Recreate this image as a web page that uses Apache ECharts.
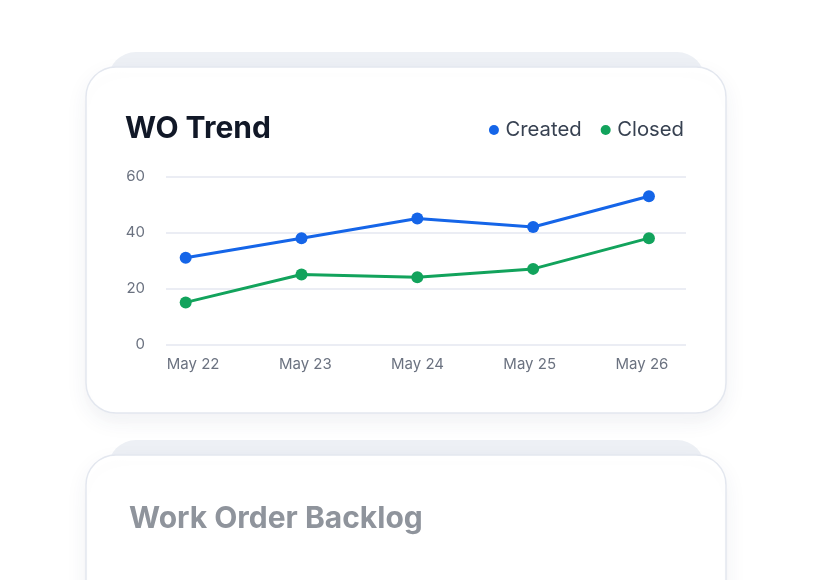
<!DOCTYPE html>
<html>
<head>
<meta charset="utf-8">
<script src="https://cdn.jsdelivr.net/npm/echarts@6/dist/echarts.min.js"></script>
<style>
  html, body { margin: 0; padding: 0; background: #fff; }
  #chart { width: 814px; height: 580px; }
</style>
</head>
<body>
<div id="chart"></div>
<script>
// data
// (not called "closed": that name is taken by window.closed)
var days = ['May 22', 'May 23', 'May 24', 'May 25', 'May 26'];
var createdCounts = [31, 38, 45, 42, 53];
var closedCounts = [15, 25, 24, 27, 38];
var yTicks = [0, 20, 40, 60];

var font = 'Inter, "Noto Sans", sans-serif';

// turn a value list into [index, value] pairs for the value x axis
function pairs(arr) {
    return arr.map(function (v, i) { return [i, v]; });
}

var myChart = echarts.init(document.getElementById('chart'));

myChart.setOption({
    animation: false,
    textStyle: { fontFamily: font },
    title: {
        text: 'WO Trend',
        left: 120,
        top: 109,
        textStyle: { fontSize: 30, fontWeight: 700, color: '#111827', fontFamily: font }
    },
    legend: {
        data: ['Created', 'Closed'],
        right: 130,
        top: 120,
        padding: 0,
        icon: 'circle',
        itemWidth: 13,
        itemHeight: 10,
        itemGap: 19,
        textStyle: { fontSize: 20.3, color: '#374151', fontFamily: font }
    },
    graphic: [
        // back card 1
        { type: 'rect', z: -10, shape: { x: 108, y: 52, width: 597, height: 120, r: 28 },
          style: { fill: '#edf0f5' } },
        // front card 1
        { type: 'rect', z: -9, shape: { x: 86, y: 67, width: 640, height: 346, r: 30 },
          style: { fill: '#ffffff', stroke: '#e3e7ef', lineWidth: 1.5,
                   shadowBlur: 22, shadowOffsetY: 8, shadowColor: 'rgba(40,55,95,0.07)' } },
        // back card 2
        { type: 'rect', z: -10, shape: { x: 108, y: 440, width: 597, height: 120, r: 28 },
          style: { fill: '#edf0f5' } },
        // front card 2
        { type: 'rect', z: -9, shape: { x: 86, y: 455, width: 640, height: 200, r: 30 },
          style: { fill: '#ffffff', stroke: '#e3e7ef', lineWidth: 1.5,
                   shadowBlur: 22, shadowOffsetY: 8, shadowColor: 'rgba(40,55,95,0.07)' } },
        { type: 'text', z: -8, left: 129, top: 504,
          style: { text: 'Work Order Backlog', fill: '#8f949c', font: '700 30px ' + font } }
    ],
    grid: [
        { left: 166, top: 176.7, width: 520, height: 167.6 },
        { left: 137, top: 176.7, width: 561, height: 167.6 }
    ],
    xAxis: [
        { type: 'value', gridIndex: 0, min: -0.17, max: 4.32, show: false },
        {
            type: 'category', gridIndex: 1, data: days, boundaryGap: true,
            axisLine: { show: false }, axisTick: { show: false }, splitLine: { show: false },
            axisLabel: { color: '#6b7280', fontSize: 15, margin: 13, fontFamily: font }
        }
    ],
    yAxis: [
        {
            type: 'value', gridIndex: 0, min: yTicks[0], max: yTicks[yTicks.length - 1], interval: 20,
            axisLine: { show: false }, axisTick: { show: false },
            axisLabel: { color: '#6b7280', fontSize: 15, margin: 21, fontFamily: font },
            splitLine: { lineStyle: { color: '#e4e7f0', width: 1.5 } }
        },
        { type: 'value', gridIndex: 1, min: 0, max: 60, show: false }
    ],
    series: [
        {
            name: 'Created', type: 'line', xAxisIndex: 0, yAxisIndex: 0,
            data: pairs(createdCounts),
            symbol: 'circle', symbolSize: 12,
            itemStyle: { color: '#1565e8' },
            lineStyle: { color: '#1565e8', width: 3 }
        },
        {
            name: 'Closed', type: 'line', xAxisIndex: 0, yAxisIndex: 0,
            data: pairs(closedCounts),
            symbol: 'circle', symbolSize: 12,
            itemStyle: { color: '#12a35c' },
            lineStyle: { color: '#12a35c', width: 3 }
        }
    ]
});
</script>
</body>
</html>
